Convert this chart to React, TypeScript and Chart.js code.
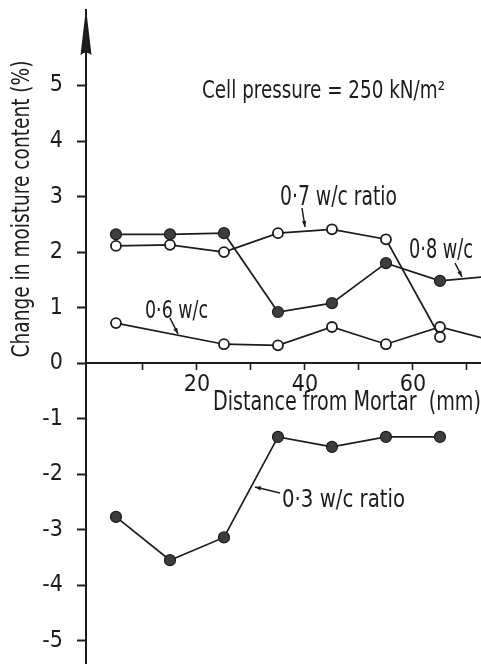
import React, { useEffect, useRef } from 'react';
import { Chart, registerables } from 'chart.js';

Chart.register(...registerables);

// ---- data ----
const xPositions = [5, 15, 25, 35, 45, 55, 65, 75];
const wc08 = [2.32, 2.32, 2.34, 0.92, 1.08, 1.8, 1.48, 1.57];
const wc07 = [2.11, 2.13, 2.0, 2.34, 2.41, 2.23, 0.47, null];
const wc06 = [0.72, null, 0.34, 0.32, 0.65, 0.34, 0.65, 0.4];
const wc03 = [-2.77, -3.55, -3.14, -1.33, -1.51, -1.33, -1.33, null];

const xTickValues = [10, 20, 30, 40, 50, 60, 70];
const xTickLabels = [20, 40, 60];
const yTickValues = [-5, -4, -3, -2, -1, 0, 1, 2, 3, 4, 5];

const seriesNames = ['0·8 w/c', '0·7 w/c ratio', '0·6 w/c', '0·3 w/c ratio'];
const chartTitle = 'Cell pressure = 250 kN/m²';
const xTitle = 'Distance from Mortar  (mm)';
const yTitle = 'Change in moisture content (%)';

const FONT = "'DejaVu Sans Condensed', 'Liberation Sans Narrow', 'DejaVu Sans', sans-serif";
const INK = '#1c1c1c';

function toPoints(vals: (number | null)[]) {
  const out: { x: number; y: number }[] = [];
  vals.forEach((v, i) => {
    if (v !== null) out.push({ x: xPositions[i], y: v });
  });
  return out;
}

function fitted(ctx: CanvasRenderingContext2D, text: string, x: number, y: number, width: number, size: number, rotate = false) {
  ctx.save();
  ctx.font = `${size}px ${FONT}`;
  ctx.fillStyle = INK;
  const w = ctx.measureText(text).width;
  const sx = width / w;
  ctx.translate(x, y);
  if (rotate) {
    ctx.rotate(-Math.PI / 2);
    ctx.scale(sx, 1);
    ctx.textAlign = 'center';
    ctx.textBaseline = 'middle';
  } else {
    ctx.scale(sx, 1);
    ctx.textAlign = 'left';
    ctx.textBaseline = 'alphabetic';
  }
  ctx.fillText(text, 0, 0);
  ctx.restore();
}

function leader(ctx: CanvasRenderingContext2D, x1: number, y1: number, x2: number, y2: number) {
  ctx.save();
  ctx.strokeStyle = INK;
  ctx.fillStyle = INK;
  ctx.lineWidth = 1.5;
  ctx.beginPath();
  ctx.moveTo(x1, y1);
  ctx.lineTo(x2, y2);
  ctx.stroke();
  const a = Math.atan2(y2 - y1, x2 - x1);
  const L = 6, W = 2.2;
  ctx.beginPath();
  ctx.moveTo(x2, y2);
  ctx.lineTo(x2 - L * Math.cos(a) + W * Math.sin(a), y2 - L * Math.sin(a) - W * Math.cos(a));
  ctx.lineTo(x2 - L * Math.cos(a) - W * Math.sin(a), y2 - L * Math.sin(a) + W * Math.cos(a));
  ctx.closePath();
  ctx.fill();
  ctx.restore();
}

const annotationPlugin = {
  id: 'annotations',
  afterDraw(chart: any) {
    const ctx: CanvasRenderingContext2D = chart.ctx;
    const area = chart.chartArea;
    const ax = area.left;
    // arrow head on the y axis
    ctx.save();
    ctx.fillStyle = INK;
    ctx.beginPath();
    ctx.moveTo(ax, 8);
    ctx.lineTo(ax + 5.5, 55);
    ctx.quadraticCurveTo(ax, 50, ax - 5.5, 55);
    ctx.closePath();
    ctx.fill();
    ctx.restore();

    fitted(ctx, chartTitle, 202, 98, 243, 24);
    fitted(ctx, seriesNames[1], 280, 205, 117, 26);
    fitted(ctx, seriesNames[0], 409, 258, 64, 26);
    fitted(ctx, seriesNames[2], 145, 318, 63, 25);
    fitted(ctx, seriesNames[3], 282, 507, 123, 25);
    fitted(ctx, xTitle, 213, 410, 268, 26);
    fitted(ctx, yTitle, 22, 209, 297, 25, true);

    leader(ctx, 302, 208, 305, 227);
    leader(ctx, 455, 263, 462, 277);
    leader(ctx, 170, 318, 178, 334);
    leader(ctx, 280, 493, 255, 487);
  },
};

export default function App() {
  const ref = useRef<HTMLCanvasElement | null>(null);

  useEffect(() => {
    if (!ref.current) return;
    const filled = {
      borderColor: INK,
      borderWidth: 1.7,
      pointRadius: 5.5,
      pointBackgroundColor: '#3d3d3d',
      pointBorderColor: INK,
      pointBorderWidth: 1.2,
      fill: false,
      tension: 0,
    };
    const open = {
      borderColor: INK,
      borderWidth: 1.7,
      pointRadius: 5,
      pointBackgroundColor: '#ffffff',
      pointBorderColor: INK,
      pointBorderWidth: 1.8,
      fill: false,
      tension: 0,
    };
    const chart = new Chart(ref.current, {
      type: 'line',
      data: {
        datasets: [
          { label: seriesNames[0], data: toPoints(wc08), ...filled },
          { label: seriesNames[1], data: toPoints(wc07), ...open },
          { label: seriesNames[2], data: toPoints(wc06), ...open },
          { label: seriesNames[3], data: toPoints(wc03), ...filled },
        ],
      },
      options: {
        animation: false,
        responsive: false,
        maintainAspectRatio: false,
        events: [],
        layout: { autoPadding: false, padding: { top: 10, left: 0, right: 0, bottom: 0 } },
        plugins: { legend: { display: false }, tooltip: { enabled: false }, title: { display: false } },
        scales: {
          x: {
            type: 'linear',
            position: { y: 0 } as any,
            min: -0.55,
            max: 72.6,
            afterBuildTicks: (s: any) => {
              s.ticks = xTickValues.map((v) => ({ value: v }));
            },
            afterFit: (s: any) => {
              s.paddingLeft = 0;
              s.paddingRight = 0;
            },
            border: { display: true, color: INK, width: 2 },
            grid: { display: true, drawOnChartArea: false, drawTicks: true, tickLength: 6, tickWidth: 1.6, tickColor: INK },
            ticks: {
              padding: 2,
              color: INK,
              font: { family: FONT, size: 23 },
              maxRotation: 0,
              autoSkip: false,
              callback: (v: any) => (xTickLabels.includes(Number(v)) ? String(v) : ''),
            },
          },
          y: {
            type: 'linear',
            position: 'left',
            min: -5.42,
            max: 6.36,
            afterBuildTicks: (s: any) => {
              s.ticks = yTickValues.map((v) => ({ value: v }));
            },
            afterFit: (s: any) => {
              s.width = 86;
              s.paddingTop = 0;
              s.paddingBottom = 0;
            },
            border: { display: true, color: INK, width: 2 },
            grid: { display: true, drawOnChartArea: false, drawTicks: true, tickLength: 9, tickWidth: 2, tickColor: INK },
            ticks: {
              padding: 14,
              color: INK,
              font: { family: FONT, size: 23 },
              autoSkip: false,
              callback: (v: any) => String(v),
            },
          },
        },
      },
      plugins: [annotationPlugin],
    } as any);
    return () => chart.destroy();
  }, []);

  return (
    <div style={{ position: 'absolute', left: 0, top: 0, width: 481, height: 664, background: '#fff' }}>
      <canvas ref={ref} width={481} height={664} style={{ display: 'block', width: 481, height: 664 }} />
    </div>
  );
}
